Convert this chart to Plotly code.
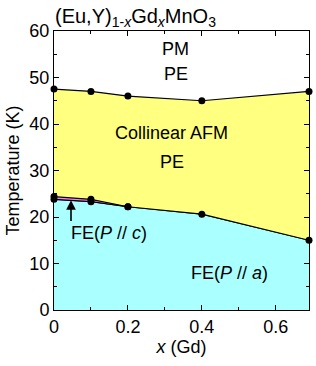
import plotly.graph_objects as go

# Data
x_gd = [0, 0.1, 0.2, 0.4, 0.69]
T_N = [47.5, 47.0, 46.0, 45.0, 47.0]           # PM -> collinear AFM
T_upper = [24.4, 23.8, 22.2, 20.6, 15.0]       # collinear AFM -> FE
x_c = [0, 0.1, 0.2]
T_c_low = [23.8, 23.3, 22.2]                   # FE(P//c) -> FE(P//a)

# lower boundary of cyan region
x_low = x_c + x_gd[3:]
T_low = T_c_low + T_upper[3:]

YELLOW = "#FFFF80"
CYAN = "#AAFFFF"
PINK = "#FF80FF"

fig = go.Figure()

# cyan region
fig.add_trace(go.Scatter(x=x_low, y=T_low, mode="lines", line=dict(color="black", width=1),
                         fill="tozeroy", fillcolor=CYAN, hoverinfo="skip"))
# yellow region
fig.add_trace(go.Scatter(x=x_gd + x_gd[::-1], y=T_N + T_upper[::-1], mode="lines",
                         line=dict(width=0), fill="toself", fillcolor=YELLOW, hoverinfo="skip"))
# pink band
fig.add_trace(go.Scatter(x=x_c + x_c[::-1], y=T_upper[:3] + T_c_low[::-1], mode="lines",
                         line=dict(width=0), fill="toself", fillcolor=PINK, hoverinfo="skip"))
# lines with markers
for xs, ys in ((x_gd, T_N), (x_gd, T_upper), (x_c, T_c_low)):
    fig.add_trace(go.Scatter(x=xs, y=ys, mode="lines+markers", cliponaxis=False,
                             line=dict(color="black", width=1.2),
                             marker=dict(color="black", size=7)))

FONT = "Liberation Sans, Arial, sans-serif"
FS = 18
ann = dict(showarrow=False, font=dict(size=FS, color="black", family=FONT))
annotations = [
    dict(x=0.33, y=56.1, text="PM", **ann),
    dict(x=0.33, y=50.7, text="PE", **ann),
    dict(x=0.318, y=38.1, text="Collinear AFM", **ann),
    dict(x=0.318, y=31.9, text="PE", **ann),
    dict(x=0.15, y=16.6, text="FE(<i>P</i> // <i>c</i>)", **ann),
    dict(x=0.476, y=8.0, text="FE(<i>P</i> // <i>a</i>)", **ann),
    dict(x=0.046, y=23.6, ax=0.046, ay=18.8, axref="x", ayref="y", text="", showarrow=True,
         arrowhead=2, arrowsize=1.2, arrowwidth=1.6, arrowcolor="black"),
    dict(x=-0.005, y=0.995, xref="paper", yref="paper", xanchor="left", yanchor="bottom",
         text="(Eu,Y)<sub>1-<i>x</i></sub>Gd<sub><i>x</i></sub>MnO<sub>3</sub>",
         showarrow=False, font=dict(size=20, color="black", family=FONT)),
]

axis_common = dict(showline=True, linecolor="black", linewidth=1, mirror="allticks",
                   ticks="inside", ticklen=5, tickcolor="black", showgrid=False, zeroline=False,
                   automargin=False,
                   tickfont=dict(size=FS, color="black", family=FONT))

fig.update_layout(
    width=316, height=366,
    margin=dict(l=54, r=7, t=31, b=56),
    plot_bgcolor="white", paper_bgcolor="white",
    showlegend=False,
    annotations=annotations,
    xaxis=dict(range=[0, 0.69], tickvals=[0, 0.2, 0.4, 0.6], ticktext=["0", "0.2", "0.4", "0.6"],
               minor=dict(ticks="inside", ticklen=3, tickcolor="black", dtick=0.1),
               title=dict(text="<i>x</i> (Gd)", font=dict(size=FS, color="black", family=FONT), standoff=1),
               **axis_common),
    yaxis=dict(range=[0, 60], dtick=10,
               minor=dict(ticks="inside", ticklen=3, tickcolor="black", dtick=5),
               title=dict(text="Temperature (K)", font=dict(size=FS, color="black", family=FONT), standoff=5),
               **axis_common),
)

fig.write_html("out.html", config={"displayModeBar": False},
               post_script="document.body.style.margin='0px';")
